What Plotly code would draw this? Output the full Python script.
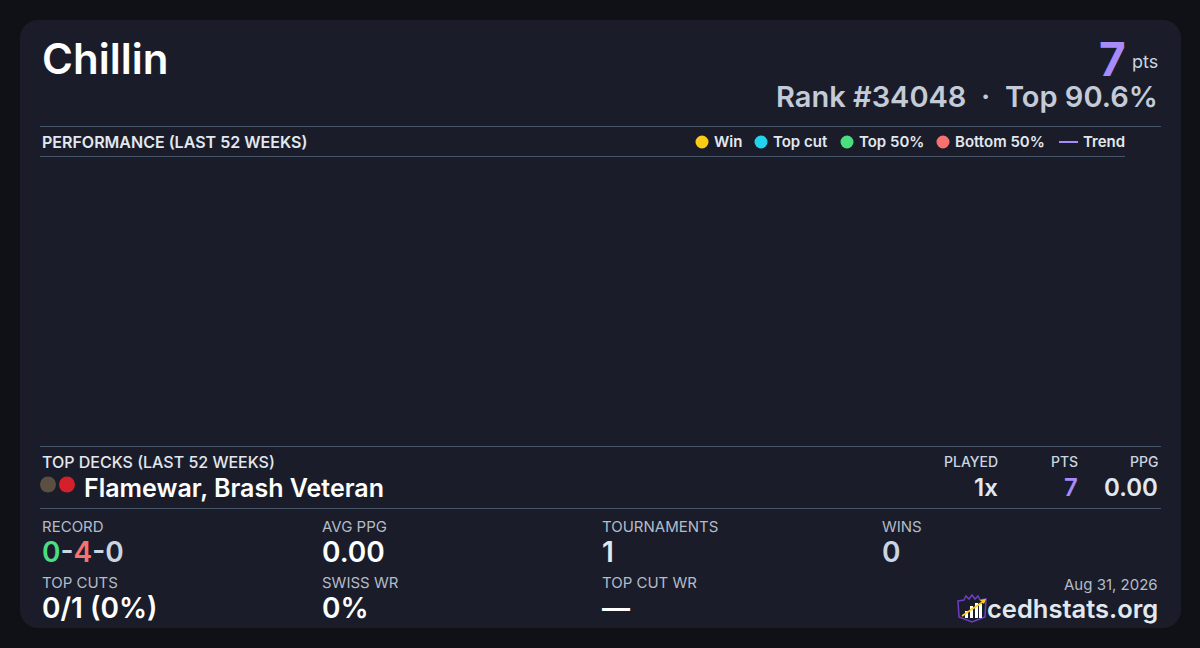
import plotly.graph_objects as go

W, H = 1200, 648
BG, CARD, RULE = "#101116", "#1a1d29", "#475569"
WHITE, SOFT, MUTED = "#ffffff", "#e2e8f0", "#cbd5e1"
LABEL = "#b4bcc9"
PURPLE, GREEN, RED, GREY = "#a78bfa", "#4ade80", "#f87171", "#cbd5e1"

player = "Chillin"
points = "7"
rank_text = "Rank #34048  ·  Top 90.6%"
performance_title = "PERFORMANCE (LAST 52 WEEKS)"
legend_names = ["Win", "Top cut", "Top 50%", "Bottom 50%"]
legend_colors = ["#facc15", "#22d3ee", "#4ade80", "#f87171"]
legend_dots = [702, 761, 847, 943]
legend_text_x = [712, 771, 857, 953]
deck_title = "TOP DECKS (LAST 52 WEEKS)"
deck_name = "Flamewar, Brash Veteran"
deck_headers = ["PLAYED", "PTS", "PPG"]
deck_values = ["1x", "7", "0.00"]
deck_header_x = [1000, 1080, 1160]
stat_labels = ["RECORD", "AVG PPG", "TOURNAMENTS", "WINS", "TOP CUTS", "SWISS WR", "TOP CUT WR"]
stat_values = [
    f'<span style="color:{GREEN}">0</span><span style="color:{GREY}">-</span>'
    f'<span style="color:{RED}">4</span><span style="color:{GREY}">-</span>'
    f'<span style="color:{GREY}">0</span>',
    "0.00", "1", "0", "0/1 (0%)", "0%", "—",
]
stat_colors = [WHITE, WHITE, SOFT, GREY, WHITE, WHITE, WHITE]
stat_x = [40, 320, 600, 880, 40, 320, 600]
stat_label_y = [526, 526, 526, 526, 582, 582, 582]
stat_value_y = [552, 552, 552, 552, 608, 608, 608]
# No results fall inside the window, so the performance plot stays empty.
weeks, performance = [], []


def px(v):
    return v / W


def py(v):
    return 1 - v / H


def txt(x, y, s, size, color, weight=400, anchor="left"):
    return dict(x=px(x), y=py(y), xref="paper", yref="paper", text=s, showarrow=False,
                xanchor=anchor, yanchor="middle", align=anchor,
                font=dict(family="Inter", size=size, color=color, weight=weight))


def line(x0, y0, x1, y1, color=RULE, width=1):
    return dict(type="line", xref="paper", yref="paper", x0=px(x0), y0=py(y0), x1=px(x1), y1=py(y1),
                line=dict(color=color, width=width))


def dot(cx, cy, r, color):
    return dict(type="circle", xref="paper", yref="paper", x0=px(cx - r), x1=px(cx + r),
                y0=py(cy + r), y1=py(cy - r), fillcolor=color, line=dict(width=0))


def path(points_px, fill=None, color=None, width=1, close=True):
    d = "M " + " L ".join(f"{px(a):.5f},{py(b):.5f}" for a, b in points_px) + (" Z" if close else "")
    return dict(type="path", xref="paper", yref="paper", path=d,
                fillcolor=fill or "rgba(0,0,0,0)",
                line=dict(color=color or "rgba(0,0,0,0)", width=width if color else 0))


def rounded(x0, y0, x1, y1, r, fill):
    k = r * 0.45
    pts = (f"M {px(x0+r)},{py(y0)} L {px(x1-r)},{py(y0)} "
           f"C {px(x1-k)},{py(y0)} {px(x1)},{py(y0+k)} {px(x1)},{py(y0+r)} "
           f"L {px(x1)},{py(y1-r)} C {px(x1)},{py(y1-k)} {px(x1-k)},{py(y1)} {px(x1-r)},{py(y1)} "
           f"L {px(x0+r)},{py(y1)} C {px(x0+k)},{py(y1)} {px(x0)},{py(y1-k)} {px(x0)},{py(y1-r)} "
           f"L {px(x0)},{py(y0+r)} C {px(x0)},{py(y0+k)} {px(x0+k)},{py(y0)} {px(x0+r)},{py(y0)} Z")
    return dict(type="path", xref="paper", yref="paper", path=pts, fillcolor=fill, line=dict(width=0))


shapes = [rounded(20, 20, 1181, 628, 18, CARD)]
shapes += [line(40, 126.5, 1161, 126.5), line(40, 156.5, 1125, 156.5),
           line(40, 446.5, 1161, 446.5), line(40, 508.5, 1161, 508.5)]
for x, c in zip(legend_dots, legend_colors):
    shapes.append(dot(x, 142, 6.5, c))
shapes.append(line(1059, 142, 1078, 142, PURPLE, 2))
shapes += [dot(48, 484.5, 8, "#5a4f41"), dot(67, 484.5, 8, "#d3202a")]

# cedhstats shield logo
shapes.append(path([(958, 601), (964, 600), (966, 596), (969, 599), (972, 595), (975, 599),
                    (978, 596), (980, 600), (986, 599), (985, 617), (972, 622), (959, 617)],
                   color="#6d3fc4", width=1.5))
for bx, by, bw in [(965, 611, 3), (970, 606, 3), (975, 603, 3), (979, 604, 3)]:
    shapes.append(dict(type="rect", xref="paper", yref="paper", x0=px(bx), x1=px(bx + bw),
                       y0=py(618), y1=py(by), fillcolor="#ffffff", line=dict(width=0)))
shapes.append(line(962, 616, 984, 601, "#facc15", 1.6))
shapes.append(path([(986, 599), (980, 600), (984, 604)], fill="#facc15"))

ann = [
    txt(40, 59, player, 42, WHITE, 600),
    txt(1128, 59, points, 46, PURPLE, 700, "right"),
    txt(1160, 62, "pts", 18, "#cbd5e1", 400, "right"),
    txt(1160, 96, rank_text, 29, "#c3cbd8", 600, "right"),
    txt(40, 142, performance_title, 16, SOFT, 600),
    txt(1081, 142, "Trend", 15, SOFT, 600),
    txt(40, 462, deck_title, 16, SOFT, 500),
    txt(82, 488, deck_name, 25, WHITE, 600),
    txt(1160, 584, "Aug 31, 2026", 15, LABEL, 400, "right"),
    txt(1160, 608, "cedhstats.org", 25.5, SOFT, 600, "right"),
]
for x, s in zip(legend_text_x, legend_names):
    ann.append(txt(x, 142, s, 15, SOFT, 600))
for x, h, v, c in zip(deck_header_x, deck_headers, deck_values, [SOFT, PURPLE, SOFT]):
    ann.append(txt(x, 462, h, 14, MUTED, 500, "right"))
    ann.append(txt(x, 487, v, 24, c, 600, "right"))
for x, ly, vy, lab, val, c in zip(stat_x, stat_label_y, stat_value_y, stat_labels, stat_values, stat_colors):
    ann.append(txt(x, ly, lab, 15, LABEL, 400))
    ann.append(txt(x, vy, val, 28, c, 600))

fig = go.Figure(go.Scatter(x=weeks, y=performance, mode="lines+markers",
                           line=dict(color=PURPLE), showlegend=False))
fig.update_layout(width=W, height=H, margin=dict(l=0, r=0, t=0, b=0), autosize=False,
                  paper_bgcolor=BG, plot_bgcolor=BG, showlegend=False,
                  xaxis=dict(visible=False), yaxis=dict(visible=False),
                  shapes=shapes, annotations=ann)
fig.write_html("out.html", config={"displayModeBar": False},
               post_script="document.body.style.margin='0';document.body.style.background='%s';" % BG)
